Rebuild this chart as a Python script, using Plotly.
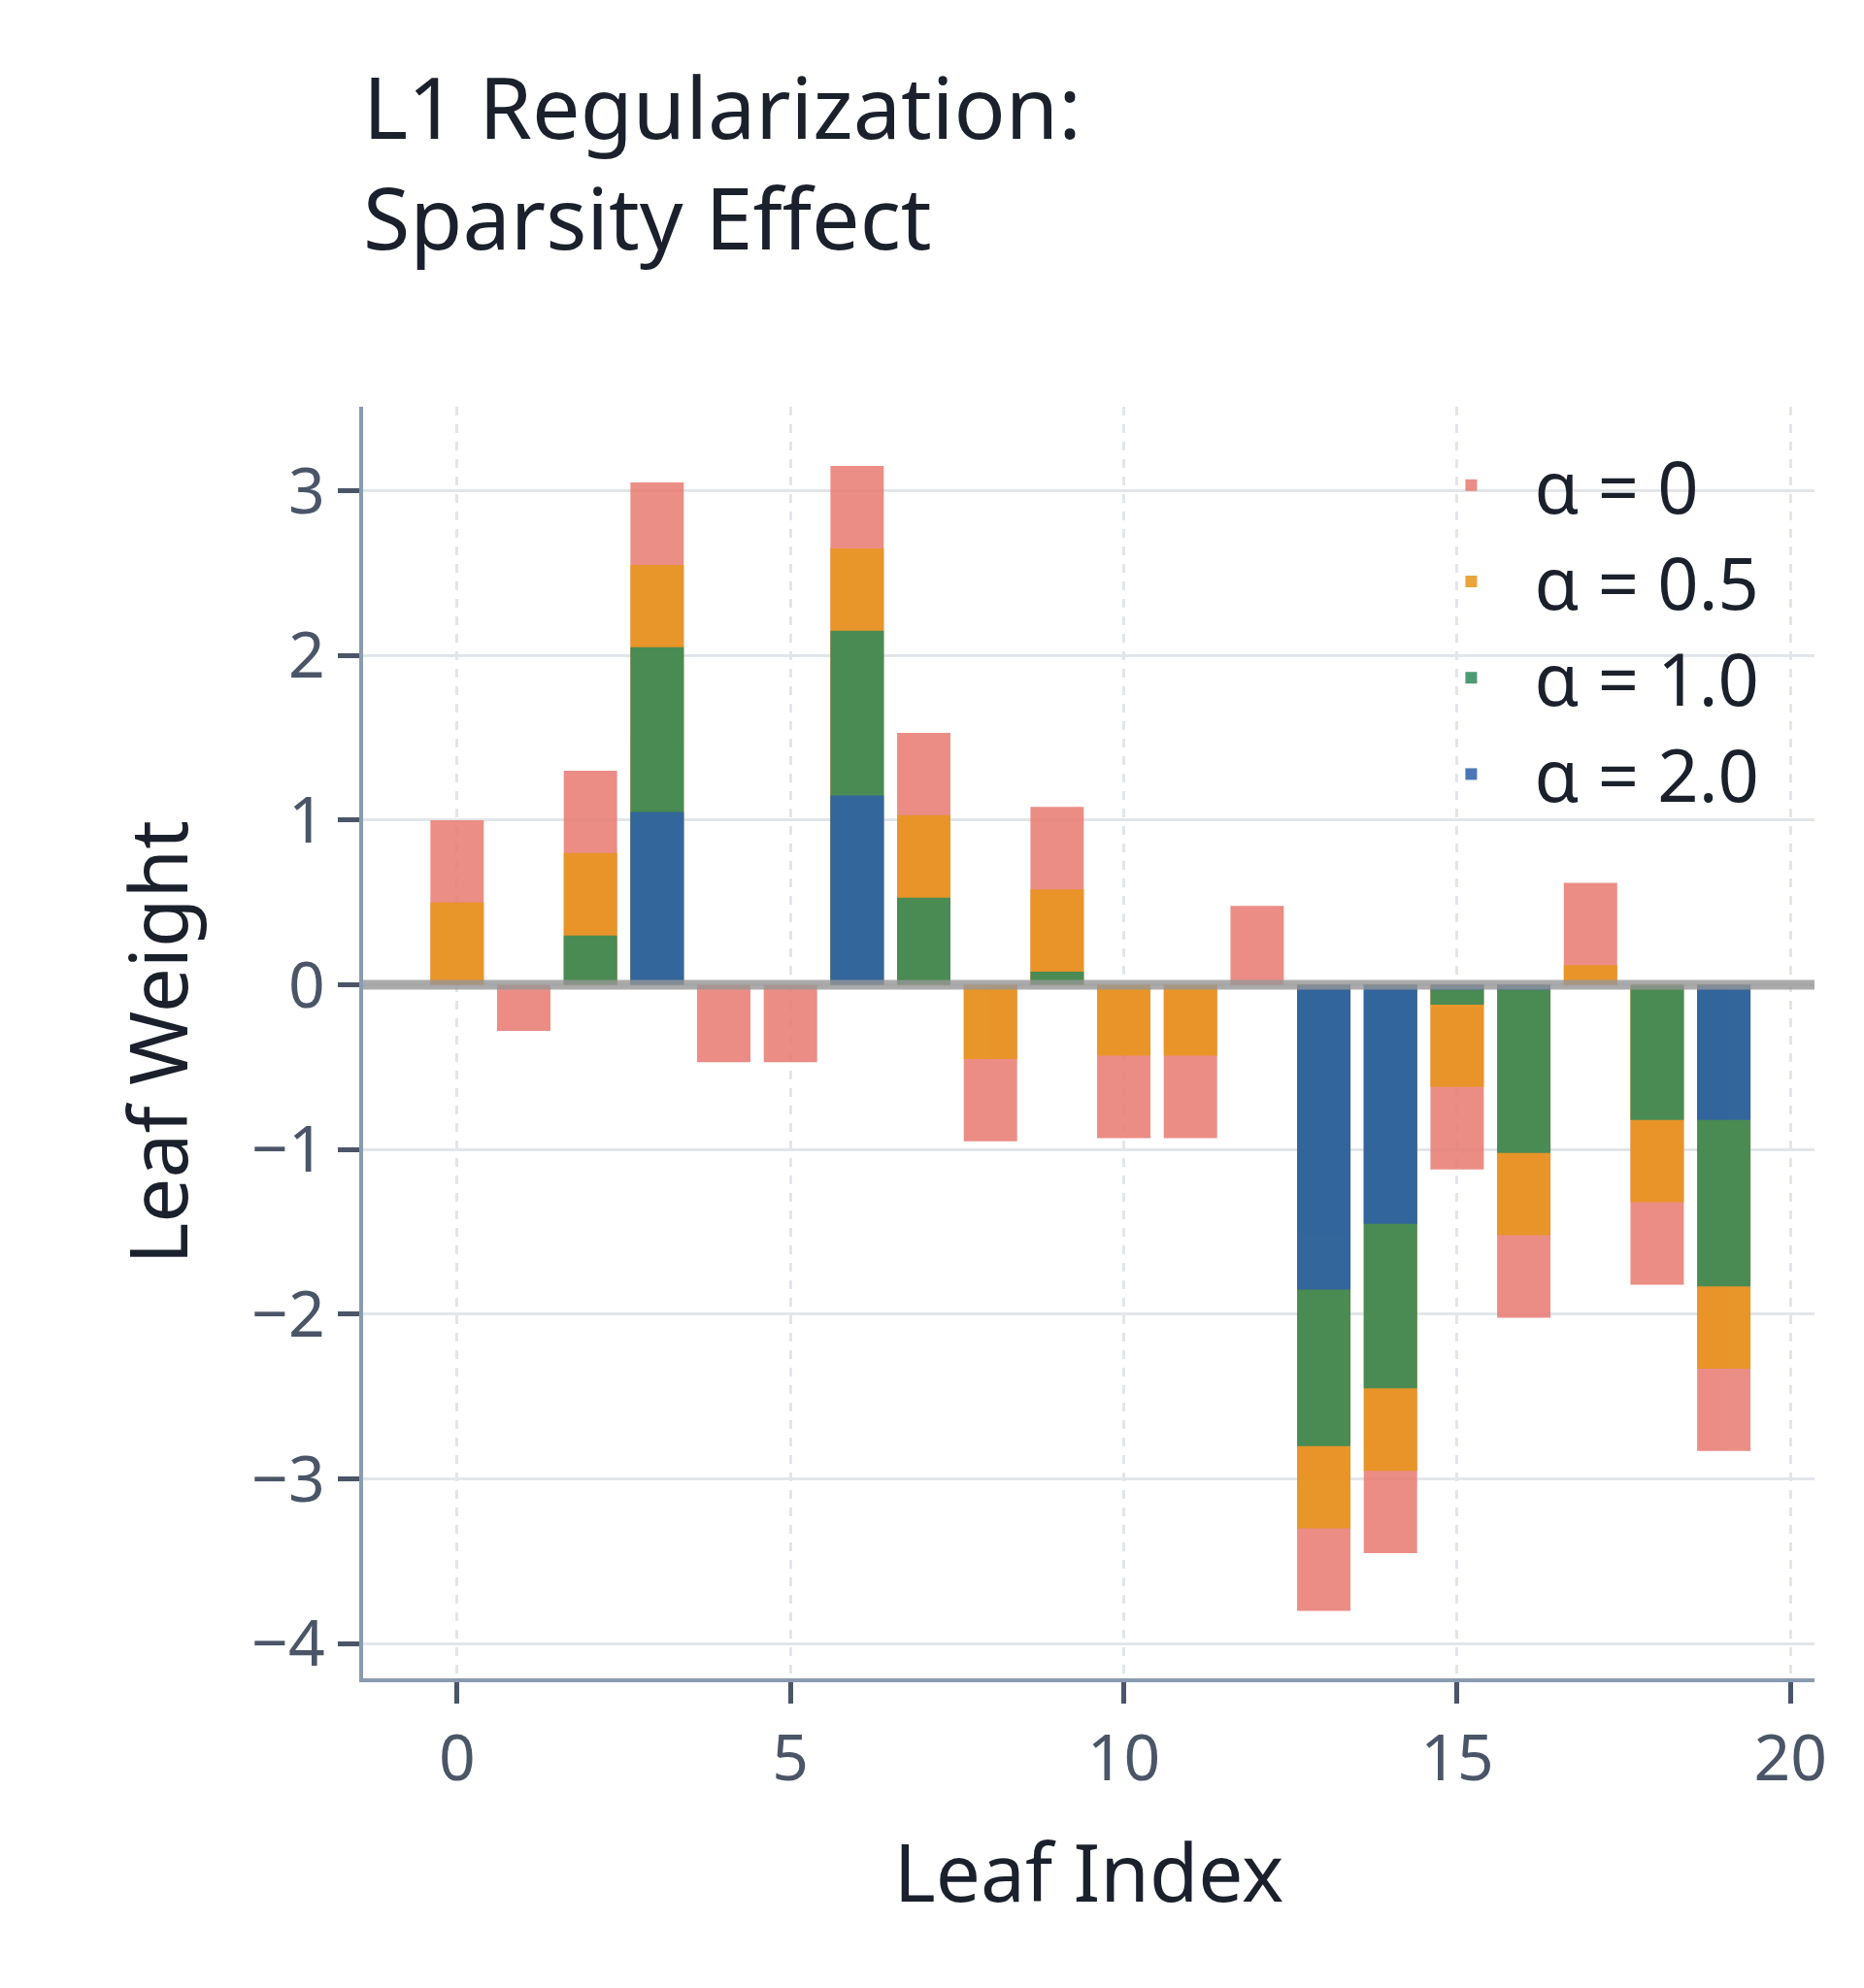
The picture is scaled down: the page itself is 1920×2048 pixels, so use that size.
import plotly.graph_objects as go

leaf = list(range(20))
w_a0 = [1.0,-0.28,1.3,3.05,-0.47,-0.47,3.15,1.53,-0.95,1.08,-0.93,-0.93,0.48,-3.8,-3.45,-1.12,-2.02,0.62,-1.82,-2.83]
w_a05 = [0.5,0,0.8,2.55,0,0,2.65,1.03,-0.45,0.58,-0.43,-0.43,0,-3.3,-2.95,-0.62,-1.52,0.12,-1.32,-2.33]
w_a1 = [0,0,0.3,2.05,0,0,2.15,0.53,0,0.08,0,0,0,-2.8,-2.45,-0.12,-1.02,0,-0.82,-1.83]
w_a2 = [0,0,0,1.05,0,0,1.15,0,0,0,0,0,0,-1.85,-1.45,-0.03,-0.03,0,0,-0.82]
names = ["α = 0","α = 0.5","α = 1.0","α = 2.0"]
colors = ["#E87A70","#E8961A","#2E8A5A","#2F5FA8"]

fig = go.Figure()
for n, c, v in zip(names, colors, [w_a0, w_a05, w_a1, w_a2]):
    fig.add_bar(x=leaf, y=v, name=n, marker_color=c, opacity=0.85, width=0.8, marker_line_width=0)

fig.add_hline(y=0, line_color="rgba(150,150,150,0.8)", line_width=10)

font = "Noto Sans"
fig.update_layout(
    width=1920, height=2048, barmode="overlay",
    paper_bgcolor="white", plot_bgcolor="white",
    font=dict(family=font, color="#4a5568"),
    margin=dict(l=366, r=59, t=411, b=327),
    title=dict(text="L1 Regularization:<br>Sparsity Effect", x=366/1920, xanchor="left",
               y=1-135/2048, yanchor="top", font=dict(size=88, color="#1a202c")),
    legend=dict(x=0.72, y=0.98, xanchor="left", yanchor="top", font=dict(size=74, color="#1a202c"),
                bgcolor="rgba(0,0,0,0)", itemwidth=120, tracegroupgap=20),
    bargap=0.2,
)
fig.update_xaxes(range=[-1.41, 20.36], tickvals=[0,5,10,15,20], showgrid=True, gridcolor="#e2e6ea",
                 griddash="dash", gridwidth=3, ticks="outside", ticklen=22, tickwidth=5, tickcolor="#4a5568",
                 showline=True, linecolor="#8a9ab0", linewidth=4, tickfont=dict(size=66),
                 title=dict(text="Leaf Index", font=dict(size=82, color="#1a202c"), standoff=50), zeroline=False)
fig.update_yaxes(range=[-4.21, 3.51], tickvals=[-4,-3,-2,-1,0,1,2,3], showgrid=True, gridcolor="#e2e6ea",
                 gridwidth=3, ticks="outside", ticklen=22, tickwidth=5, tickcolor="#4a5568",
                 showline=True, linecolor="#8a9ab0", linewidth=4, tickfont=dict(size=66),
                 title=dict(text="Leaf Weight", font=dict(size=82, color="#1a202c"), standoff=40), zeroline=False)
fig.write_html("out.html")
